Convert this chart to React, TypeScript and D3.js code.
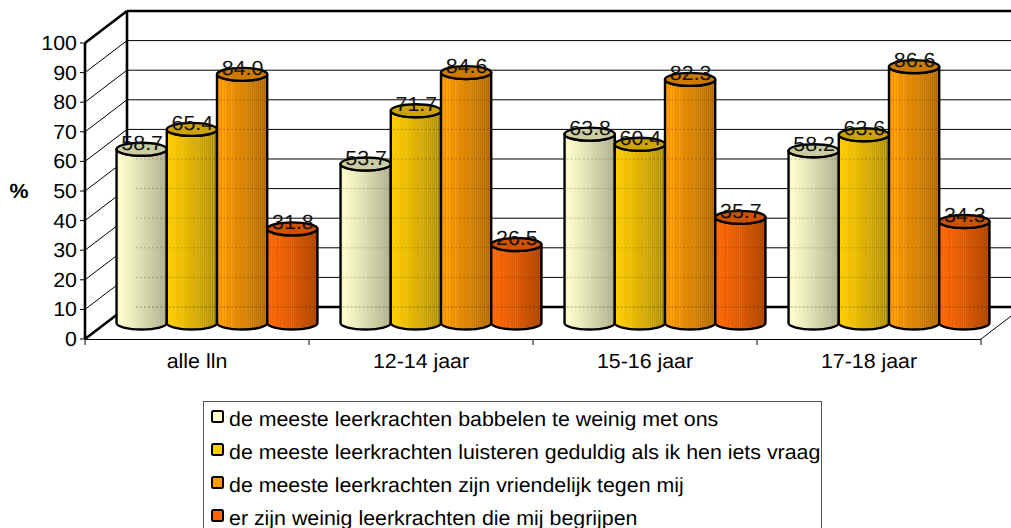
import * as d3 from 'd3';

const categories = ['alle lln', '12-14 jaar', '15-16 jaar', '17-18 jaar'];
const seriesNames = [
  'de meeste leerkrachten babbelen te weinig met ons',
  'de meeste leerkrachten luisteren geduldig als ik hen iets vraag',
  'de meeste leerkrachten zijn vriendelijk tegen mij',
  'er zijn weinig leerkrachten die mij begrijpen',
];
const babbelen = [58.7, 53.7, 63.8, 58.2];
const luisteren = [65.4, 71.7, 60.4, 63.6];
const vriendelijk = [84.0, 84.6, 82.3, 86.6];
const begrijpen = [31.8, 26.5, 35.7, 34.3];
const seriesValues = [babbelen, luisteren, vriendelijk, begrijpen];
const yTicks = [0, 10, 20, 30, 40, 50, 60, 70, 80, 90, 100];
const colors = ['#FFFFCC', '#FFCC00', '#FF9900', '#FF6600'];

const W = 1011;
const H = 528;
const FONT = '"Liberation Sans", Arial, sans-serif';
const FONT_SIZE = 20.5;
const STRETCH = 1.042;

// 3d box: the back wall is the front plane moved by depth
const depth = { x: 42, y: -32 };
const front = { left: 85, right: 981, bottom: 339, top: 43 };

const yFront = d3.scaleLinear().domain([0, 100]).range([front.bottom, front.top]);
const yBack = (v: number) => yFront(v) + depth.y;
const xCat = d3.scaleBand<string>().domain(categories).range([front.left, front.right]);
// bars stand in the middle of the floor depth
const BAR_BASE = 16;
const yBar = (v: number) => yFront(v) - BAR_BASE;
const barShift = depth.x / 2 - 1;
const xBar = d3
  .scaleBand<number>()
  .domain([0, 1, 2, 3])
  .range([0, xCat.bandwidth()])
  .paddingInner(0)
  .paddingOuter(0.23);
const RY = 6.5;

// vertical streaks of the gradient fill
const streaks = [
  0.08, 0.13, 0.17, 0.24, 0.29, 0.33, 0.38, 0.44, 0.48, 0.52, 0.57, 0.61, 0.65, 0.69, 0.73, 0.77, 0.81, 0.85, 0.89,
  0.93, 0.97,
];

const Txt = ({ x, y, anchor = 'start', weight = 'normal', fill = '#000', children }: any) => (
  <text
    transform={`translate(${x},${y}) scale(${STRETCH},1)`}
    textAnchor={anchor}
    fontFamily={FONT}
    fontSize={FONT_SIZE}
    fontWeight={weight}
    fill={fill}
    textRendering="geometricPrecision"
  >
    {children}
  </text>
);

const Gradient = ({ id, color }: { id: string; color: string }) => {
  const dark = d3.interpolateRgb(color, '#000');
  const shade = (t: number) => dark(0.32 * Math.pow(t, 1.2));
  const stops: { o: number; c: string }[] = [{ o: 0, c: color }];
  streaks.forEach((s) => {
    stops.push({ o: s - 0.01, c: shade(s) });
    stops.push({ o: s, c: d3.interpolateRgb(shade(s), '#fff')(0.14) });
    stops.push({ o: s + 0.01, c: shade(s) });
  });
  stops.push({ o: 1, c: shade(1) });
  return (
    <linearGradient id={id} x1="0" x2="1" y1="0" y2="0">
      {stops.map((s, i) => (
        <stop key={i} offset={s.o} stopColor={s.c} />
      ))}
    </linearGradient>
  );
};

export default function App() {
  const bw = xBar.bandwidth();
  const rx = bw / 2;
  const base = yBar(0);

  return (
    <svg width={W} height={H} style={{ position: 'absolute', left: 0, top: 0, background: '#fff' }}>
      <defs>
        {colors.map((c, i) => (
          <Gradient key={c} id={`cyl-${i}`} color={c} />
        ))}
      </defs>

      {/* back wall and side wall gridlines */}
      {yTicks.slice(1, -1).map((t) => (
        <g key={t} stroke="#000" strokeWidth={1} fill="none">
          <line x1={front.left + depth.x} x2={W} y1={yBack(t)} y2={yBack(t)} />
          <line x1={front.left} x2={front.left + depth.x} y1={yFront(t)} y2={yBack(t)} />
        </g>
      ))}

      {/* walls */}
      <g stroke="#000" fill="none" strokeWidth={2.6}>
        <line x1={front.left + depth.x} x2={W} y1={yBack(100)} y2={yBack(100)} />
        <line x1={front.left + depth.x} x2={W} y1={yBack(0)} y2={yBack(0)} />
        <line x1={front.left + depth.x} x2={front.left + depth.x} y1={yBack(100)} y2={yBack(0)} />
        <line x1={front.left} x2={front.left} y1={yFront(100)} y2={yFront(0)} />
        <line x1={front.left} x2={front.left + depth.x} y1={yFront(100)} y2={yBack(100)} />
        <line x1={front.left} x2={front.left + depth.x} y1={yFront(0)} y2={yBack(0)} />
      </g>

      {/* floor edge, category ticks */}
      <g stroke="#000" fill="none" strokeWidth={1}>
        <line x1={front.left} x2={front.right} y1={yFront(0) + 0.5} y2={yFront(0) + 0.5} />
        <line x1={front.right} x2={W} y1={yFront(0)} y2={yFront(0) + (depth.y * (W - front.right)) / depth.x} />
        {categories.map((c) => (
          <line key={c} x1={xCat(c)!} x2={xCat(c)!} y1={yFront(0)} y2={yFront(0) + 6} />
        ))}
        <line x1={front.right} x2={front.right} y1={yFront(0)} y2={yFront(0) + 6} />
        {yTicks.map((t) => (
          <line key={t} x1={front.left - 5} x2={front.left} y1={yFront(t)} y2={yFront(t)} />
        ))}
      </g>

      {/* cylinders */}
      {categories.map((c, ci) => (
        <g key={c}>
          {seriesValues.map((vals, si) => {
            const x = xCat(c)! + barShift + xBar(si)!;
            const top = yBar(vals[ci]);
            const grid = yTicks.filter((t) => yBack(t) > top + RY);
            return (
              <g key={si}>
                <path
                  d={`M${x},${top}L${x},${base}A${rx},${RY} 0 0 0 ${x + bw},${base}L${x + bw},${top}A${rx},${RY} 0 0 1 ${x},${top}Z`}
                  fill={`url(#cyl-${si})`}
                  stroke="#000"
                  strokeWidth={2.4}
                  strokeLinejoin="round"
                />
                {/* the wall lines shine through the bars a little */}
                {grid.map((t) => (
                  <line
                    key={t}
                    x1={Math.max(x + 2, front.left + depth.x + 9)}
                    x2={x + bw - 2}
                    y1={yBack(t)}
                    y2={yBack(t)}
                    stroke="#000"
                    strokeOpacity={t === 0 ? 0.35 : 0.22}
                    strokeDasharray="2 2"
                  />
                ))}
                <ellipse
                  cx={x + rx}
                  cy={top}
                  rx={rx}
                  ry={RY}
                  fill={d3.interpolateRgb(colors[si], '#000')(0.2)}
                  stroke="#000"
                  strokeWidth={2.4}
                />
              </g>
            );
          })}
        </g>
      ))}

      {/* value labels go over all bars */}
      {categories.map((c, ci) =>
        seriesValues.map((vals, si) => (
          <Txt
            key={`${c}-${si}`}
            x={xCat(c)! + barShift + xBar(si)! + bw / 2 + 0.5}
            y={yBar(vals[ci]) + 0.5}
            anchor="middle"
            fill="#111"
          >
            {vals[ci].toFixed(1)}
          </Txt>
        )),
      )}

      {yTicks.map((t) => (
        <Txt key={t} x={77} y={yFront(t) + 7} anchor="end">
          {t}
        </Txt>
      ))}
      {categories.map((c) => (
        <Txt key={c} x={xCat(c)! + xCat.bandwidth() / 2} y={367.5} anchor="middle">
          {c}
        </Txt>
      ))}
      <Txt x={19} y={198} anchor="middle" weight="bold">
        %
      </Txt>

      {/* legend, its bottom edge falls outside the picture */}
      <rect x={203.5} y={401.5} width={618} height={140} fill="#fff" stroke="#555" strokeWidth={1} />
      {seriesNames.map((name, i) => {
        const cy = 417 + i * 33;
        return (
          <g key={name}>
            <rect x={212} y={cy - 6} width={11} height={11} rx={1.5} fill={colors[i]} stroke="#000" strokeWidth={2} />
            <Txt x={229} y={cy + 8.5}>
              {name}
            </Txt>
          </g>
        );
      })}
    </svg>
  );
}
